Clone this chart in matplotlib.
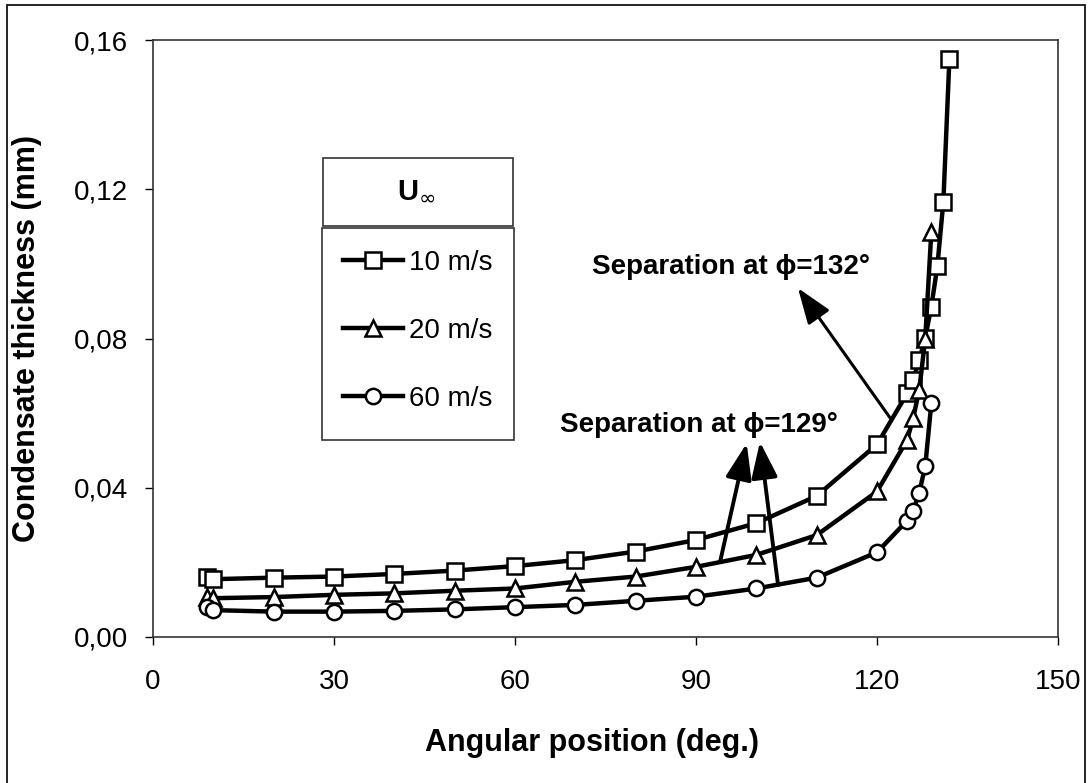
import matplotlib
matplotlib.use("Agg")
import matplotlib.pyplot as plt
from matplotlib.patches import Rectangle
from matplotlib.ticker import FuncFormatter

plt.rcParams['font.family'] = ['Liberation Sans', 'DejaVu Sans']

# angular positions (deg.) and condensate thickness (mm)
angle_10 = [9, 10, 20, 30, 40, 50, 60, 70, 80, 90, 100, 110, 120, 125, 126, 127, 128, 129, 130, 131, 132]
thick_10 = [0.0162, 0.0155, 0.0159, 0.0162, 0.0169, 0.0178, 0.0190, 0.0206, 0.0229, 0.0260, 0.0305,
            0.0378, 0.0516, 0.0653, 0.0689, 0.0742, 0.0802, 0.0885, 0.0993, 0.1167, 0.1550]

angle_20 = [9, 10, 20, 30, 40, 50, 60, 70, 80, 90, 100, 110, 120, 125, 126, 127, 128, 129]
thick_20 = [0.0108, 0.0104, 0.0107, 0.0113, 0.0117, 0.0124, 0.0130, 0.0148, 0.0162, 0.0188, 0.0220,
            0.0273, 0.0390, 0.0528, 0.0587, 0.0662, 0.0800, 0.1085]

angle_60 = [9, 10, 20, 30, 40, 50, 60, 70, 80, 90, 100, 110, 120, 125, 126, 127, 128, 129]
thick_60 = [0.0080, 0.0072, 0.0068, 0.0068, 0.0070, 0.0074, 0.0080, 0.0086, 0.0097, 0.0108, 0.0130,
            0.0159, 0.0227, 0.0312, 0.0339, 0.0387, 0.0458, 0.0626]

labels = ['10 m/s', '20 m/s', '60 m/s']
x_ticks = [0, 30, 60, 90, 120, 150]
y_ticks = [0.0, 0.04, 0.08, 0.12, 0.16]

W, H = 1089, 783
fig = plt.figure(figsize=(W / 100, H / 100), dpi=100)
ax = fig.add_axes([153 / W, 1 - 637 / H, 905 / W, 597 / H])

style = dict(color='black', lw=3.2, mfc='white', mec='black', mew=1.8, clip_on=False)
ax.plot(angle_10, thick_10, marker='s', ms=11, label=labels[0], **style)
ax.plot(angle_20, thick_20, marker='^', ms=12, label=labels[1], **style)
ax.plot(angle_60, thick_60, marker='o', ms=11, label=labels[2], **style)

ax.set_xlim(0, 150)
ax.set_ylim(0, 0.16)
ax.set_xticks(x_ticks)
ax.set_yticks(y_ticks)
ax.yaxis.set_major_formatter(FuncFormatter(lambda v, p: f"{v:.2f}".replace('.', ',')))
ax.tick_params(direction='out', length=6, width=1, labelsize=20, colors='black')
ax.tick_params(axis='x', pad=17)
ax.tick_params(axis='y', pad=12)
for s in ax.spines.values():
    s.set_color('#333333')
    s.set_linewidth(1.2)

ax.set_xlabel('Angular position (deg.)', fontsize=22, fontweight='bold')
ax.set_ylabel('Condensate thickness (mm)', fontsize=22, fontweight='bold')
ax.xaxis.set_label_coords(0.485, -0.152)
ax.yaxis.set_label_coords(-0.123, 0.5)

# separation annotations
head = '-|>,head_length=0.55,head_width=0.2'
ax.annotate('', xy=(106.9, 0.0935), xytext=(122.4, 0.0582),
            arrowprops=dict(arrowstyle=head, color='black', lw=2.2, mutation_scale=40, shrinkA=0, shrinkB=0))
ax.annotate('', xy=(98.4, 0.0519), xytext=(94.0, 0.0202),
            arrowprops=dict(arrowstyle=head, color='black', lw=2.8, mutation_scale=40, shrinkA=0, shrinkB=0))
ax.annotate('', xy=(100.6, 0.0523), xytext=(103.6, 0.0139),
            arrowprops=dict(arrowstyle=head, color='black', lw=2.8, mutation_scale=40, shrinkA=0, shrinkB=0))
ax.text(72.8, 0.0992, 'Separation at ϕ=132°', fontsize=20, fontweight='bold', va='center', ha='left')
ax.text(67.5, 0.0568, 'Separation at ϕ=129°', fontsize=20, fontweight='bold', va='center', ha='left')

# legend with its separate title box
fig.add_artist(Rectangle((323 / W, 1 - 226 / H), 190 / W, 68 / H, transform=fig.transFigure,
                         fill=False, ec='#333333', lw=1.2))
fig.text(418 / W, 1 - 192 / H, 'U', fontsize=21, fontweight='bold', ha='right', va='center')
fig.text(419 / W, 1 - 199 / H, '∞', fontsize=15, ha='left', va='center', family=['DejaVu Sans'])
fig.add_artist(Rectangle((322 / W, 1 - 440 / H), 192 / W, 212 / H, transform=fig.transFigure,
                         fill=False, ec='#333333', lw=1.2))
ax.legend(loc='upper left', bbox_to_anchor=(343 / W, 1 - 250 / H), bbox_transform=fig.transFigure,
          frameon=False, fontsize=20, handlelength=2.15, handletextpad=0.22, labelspacing=1.51,
          borderpad=0, borderaxespad=0)

# outer chart border
fig.add_artist(Rectangle((7 / W, -0.1), 1078 / W, 1.1 - 5 / H, transform=fig.transFigure,
                         fill=False, ec='black', lw=1.2))

fig.savefig('out.png', dpi=100)
